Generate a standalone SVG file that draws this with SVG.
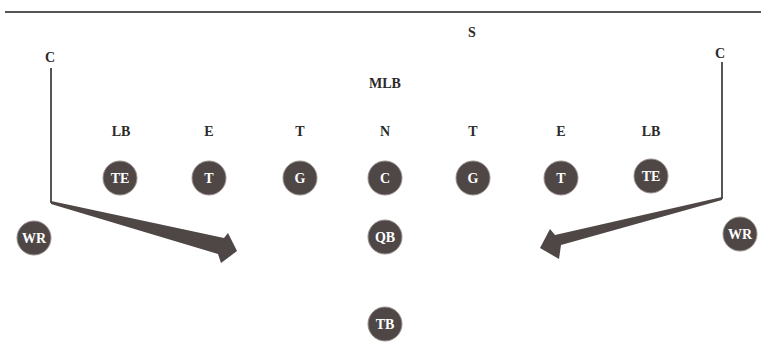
<svg xmlns="http://www.w3.org/2000/svg" width="761" height="347" viewBox="0 0 761 347">
<style>
.lbl{font-family:"Liberation Serif",serif;font-weight:bold;font-size:14px;fill:#2a2a2a;text-anchor:middle}
.pc{fill:#4f4646;stroke:#9a9090;stroke-width:1}
.pt{font-family:"Liberation Serif",serif;font-weight:bold;font-size:14px;fill:#fff;text-anchor:middle}
.route{stroke:#555;stroke-width:2;fill:none}
.head{fill:#4f4646}
</style>
<rect width="761" height="347" fill="#fff"/>
<line x1="5" y1="12" x2="761" y2="12" stroke="#555" stroke-width="2"/>
<g id="defense">
<text class="lbl" x="472" y="37">S</text>
<text class="lbl" x="50" y="62">C</text>
<text class="lbl" x="720" y="58">C</text>
<text class="lbl" x="385" y="88">MLB</text>
<text class="lbl" x="121" y="136">LB</text>
<text class="lbl" x="209" y="136">E</text>
<text class="lbl" x="300" y="136">T</text>
<text class="lbl" x="385" y="136">N</text>
<text class="lbl" x="473" y="136">T</text>
<text class="lbl" x="561" y="136">E</text>
<text class="lbl" x="651" y="136">LB</text>
</g>
<g id="connectors">
<polyline class="route" points="51,68 51,203"/>
<polygon class="head" points="51,201 224,238 228,233 237,251 221,263 218,254 51,204"/>
<polyline class="route" points="722,62 722,199"/>
<polygon class="head" points="722,197 555,235 550,229 540,248 559,259 561,245 722,200"/>
</g>
<g id="TE1"><circle class="pc" cx="120" cy="178" r="17"/><text class="pt" x="120" y="183">TE</text></g>
<g id="T1"><circle class="pc" cx="209" cy="178" r="17"/><text class="pt" x="209" y="183">T</text></g>
<g id="G1"><circle class="pc" cx="300" cy="178" r="17"/><text class="pt" x="300" y="183">G</text></g>
<g id="C"><circle class="pc" cx="385" cy="178" r="17"/><text class="pt" x="385" y="183">C</text></g>
<g id="G2"><circle class="pc" cx="473" cy="178" r="17"/><text class="pt" x="473" y="183">G</text></g>
<g id="T2"><circle class="pc" cx="561" cy="178" r="17"/><text class="pt" x="561" y="183">T</text></g>
<g id="TE2"><circle class="pc" cx="651" cy="176" r="17"/><text class="pt" x="651" y="181">TE</text></g>
<g id="QB"><circle class="pc" cx="385" cy="237" r="17"/><text class="pt" x="385" y="242">QB</text></g>
<g id="TB"><circle class="pc" cx="385" cy="324" r="17"/><text class="pt" x="385" y="329">TB</text></g>
<g id="WR1"><circle class="pc" cx="34" cy="238" r="17"/><text class="pt" x="34" y="243">WR</text></g>
<g id="WR2"><circle class="pc" cx="740" cy="234" r="17"/><text class="pt" x="740" y="239">WR</text></g>
</svg>
